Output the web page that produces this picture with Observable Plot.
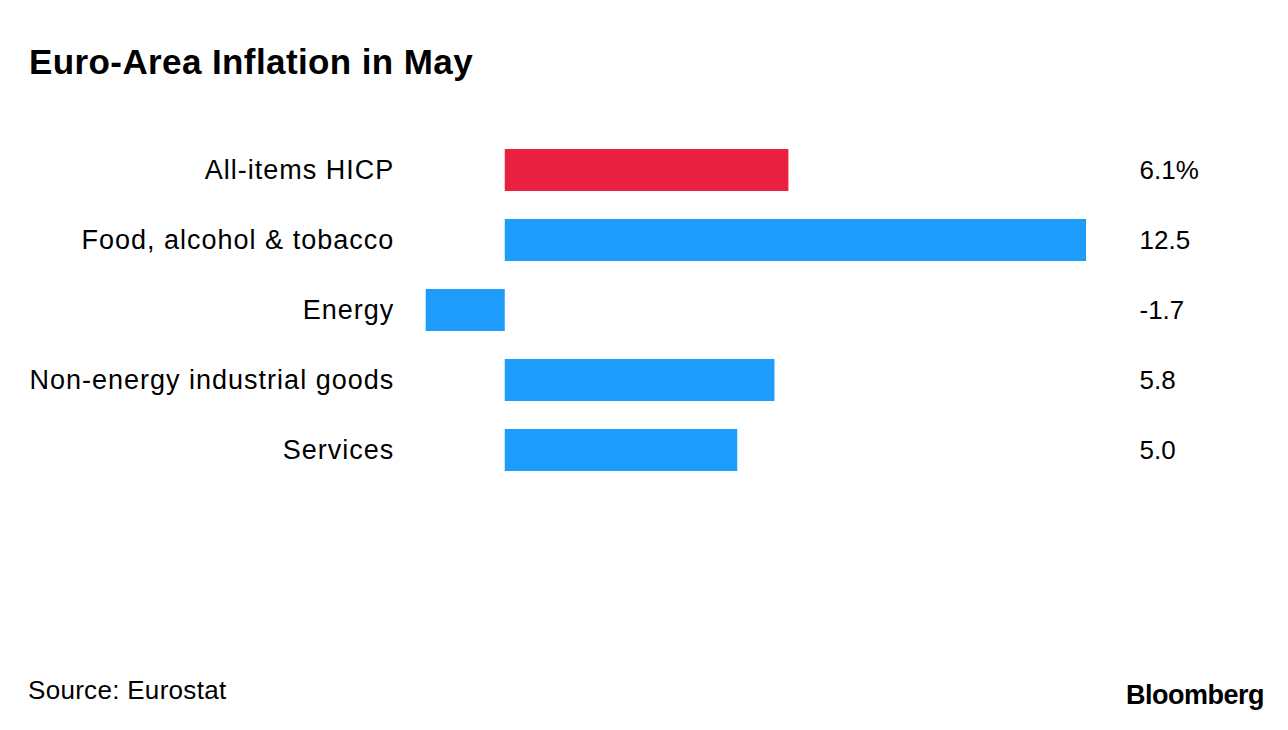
<!DOCTYPE html>
<html>
<head>
<meta charset="utf-8">
<script src="https://cdn.jsdelivr.net/npm/d3@7"></script>
<script src="https://cdn.jsdelivr.net/npm/@observablehq/plot@0.6"></script>
<style>
  html, body { margin: 0; padding: 0; background: #fff; }
  #wrap { position: relative; width: 1288px; height: 730px; overflow: hidden; font-family: "Liberation Sans", Arial, sans-serif; color: #000; }
  #title { position: absolute; left: 29px; top: 44px; font-size: 35px; line-height: 35px; font-weight: 700; letter-spacing: 0.4px; white-space: nowrap; }
  #chart { position: absolute; left: 0; top: 100px; }
  #source { position: absolute; left: 28px; top: 677px; font-size: 26px; line-height: 26px; letter-spacing: 0.3px; white-space: nowrap; }
  #logo { position: absolute; left: 1126px; top: 682px; font-size: 27px; line-height: 27px; font-weight: 700; letter-spacing: -0.5px; white-space: nowrap; }
</style>
</head>
<body>
<div id="wrap">
  <div id="title">Euro-Area Inflation in May</div>
  <div id="chart"></div>
  <div id="source">Source: Eurostat</div>
  <div id="logo">Bloomberg</div>
</div>
<script>
const categories = ["All-items HICP", "Food, alcohol & tobacco", "Energy", "Non-energy industrial goods", "Services"];
const values = [6.1, 12.5, -1.7, 5.8, 5.0];
const colors = ["#e9203f", "#1e9cfb", "#1e9cfb", "#1e9cfb", "#1e9cfb"];
const valueLabels = ["6.1%", "12.5", "-1.7", "5.8", "5.0"];

const data = categories.map((c, i) => ({category: c, value: values[i], color: colors[i], label: valueLabels[i]}));

const chart = Plot.plot({
  width: 1288,
  height: 420,
  marginLeft: 425.7,
  marginRight: 202,
  marginTop: 18.5,
  marginBottom: 18.4,
  style: {fontFamily: "'Liberation Sans', Arial, sans-serif", background: "transparent", color: "#000", overflow: "visible"},
  x: {domain: [-1.7, 12.5], axis: null},
  y: {domain: categories, padding: 0.407, label: null},
  marks: [
    Plot.barX(data, {x: "value", y: "category", fill: "color"}),
    Plot.axisY({tickSize: 0, tickPadding: 32, fontSize: 27, label: null, textAnchor: "end"}),
    Plot.text(data, {y: "category", text: "label", frameAnchor: "right", dx: 53, textAnchor: "start", fontSize: 26, fill: "#000"})
  ]
});
chart.querySelectorAll("g[aria-label='y-axis tick label'] text").forEach(t => t.style.letterSpacing = "1px");
document.getElementById("chart").appendChild(chart);
</script>
</body>
</html>
